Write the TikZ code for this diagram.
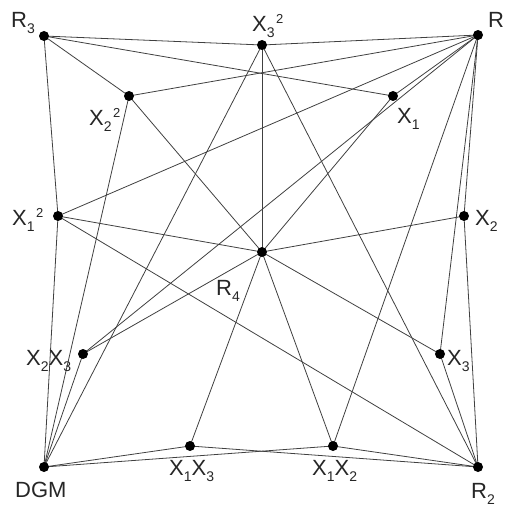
\documentclass[tikz,border=0pt]{standalone}
\usepackage{fontspec}
\setmainfont{Liberation Sans}
\usetikzlibrary{backgrounds}
\newcommand\mysub[1]{\raisebox{-6pt}{\fontsize{14}{14}\selectfont #1}}
\newcommand\mysup[1]{\kern1.5pt\raisebox{8pt}{\fontsize{13}{13}\selectfont #1}}
\begin{document}
\begin{tikzpicture}[x=1pt,y=-1pt,
  pt/.style={circle,fill=black,inner sep=0pt,minimum size=10pt},
  lab/.style={inner sep=0pt,anchor=base west,font=\fontsize{22}{26}\selectfont,text=black!85},
  edge/.style={draw=black!75,line width=0.8pt}]
\useasboundingbox (0,0) rectangle (506,508);
% points
\node[pt] (R3)   at (44,36)  {};
\node[pt] (X3s)  at (262,45) {};
\node[pt] (R)    at (478,35) {};
\node[pt] (X2s)  at (129,96) {};
\node[pt] (X1)   at (393,96) {};
\node[pt] (X1s)  at (58,216) {};
\node[pt] (X2)   at (464,216) {};
\node[pt] (R4)   at (262,252) {};
\node[pt] (X2X3) at (83,354) {};
\node[pt] (X3)   at (440,354) {};
\node[pt] (X1X3) at (190,446) {};
\node[pt] (X1X2) at (333,446) {};
\node[pt] (DGM)  at (44,467) {};
\node[pt] (R2)   at (478,467) {};
% edges
\begin{scope}[on background layer]
\foreach \a/\b in {R3/X3s, R3/X1, R3/X2s, R3/X1s,
  R/X3s, R/X2s, R/X1s, R/X1, R/X2X3, R/X3, R/X2, R/X1X2,
  R4/X3s, R4/X2s, R4/X1s, R4/X1, R4/X2, R4/X2X3, R4/X3, R4/X1X3, R4/X1X2,
  DGM/X1s, DGM/X2s, DGM/X3s, DGM/X2X3, DGM/X1X3, DGM/X1X2,
  R2/X1s, R2/X3s, R2/X2, R2/X3, R2/X1X3, R2/X1X2}
  \draw[edge] (\a.center) -- (\b.center);
\end{scope}
% labels
\node[lab] (lR3)   at (11,28)  {R\mysub{3}};
\node[lab] (lX3s)  at (252,32) {X\mysub{3}\mysup{2}};
\node[lab] (lR)    at (488,28) {R};
\node[lab] (lX2s)  at (89,125) {X\mysub{2}\mysup{2}};
\node[lab] (lX1)   at (397,123) {X\mysub{1}};
\node[lab] (lX1s)  at (12,225) {X\mysub{1}\mysup{2}};
\node[lab] (lX2)   at (475,225) {X\mysub{2}};
\node[lab] (lR4)   at (216,295) {R\mysub{4}};
\node[lab] (lX2X3) at (26,365) {X\mysub{2}X\mysub{3}};
\node[lab] (lX3)   at (447,365) {X\mysub{3}};
\node[lab] (lX1X3) at (169,475) {X\mysub{1}X\mysub{3}};
\node[lab] (lX1X2) at (312,475) {X\mysub{1}X\mysub{2}};
\node[lab] (lDGM)  at (15,497) {DGM};
\node[lab] (lR2)   at (471,498) {R\mysub{2}};
\end{tikzpicture}
\end{document}
